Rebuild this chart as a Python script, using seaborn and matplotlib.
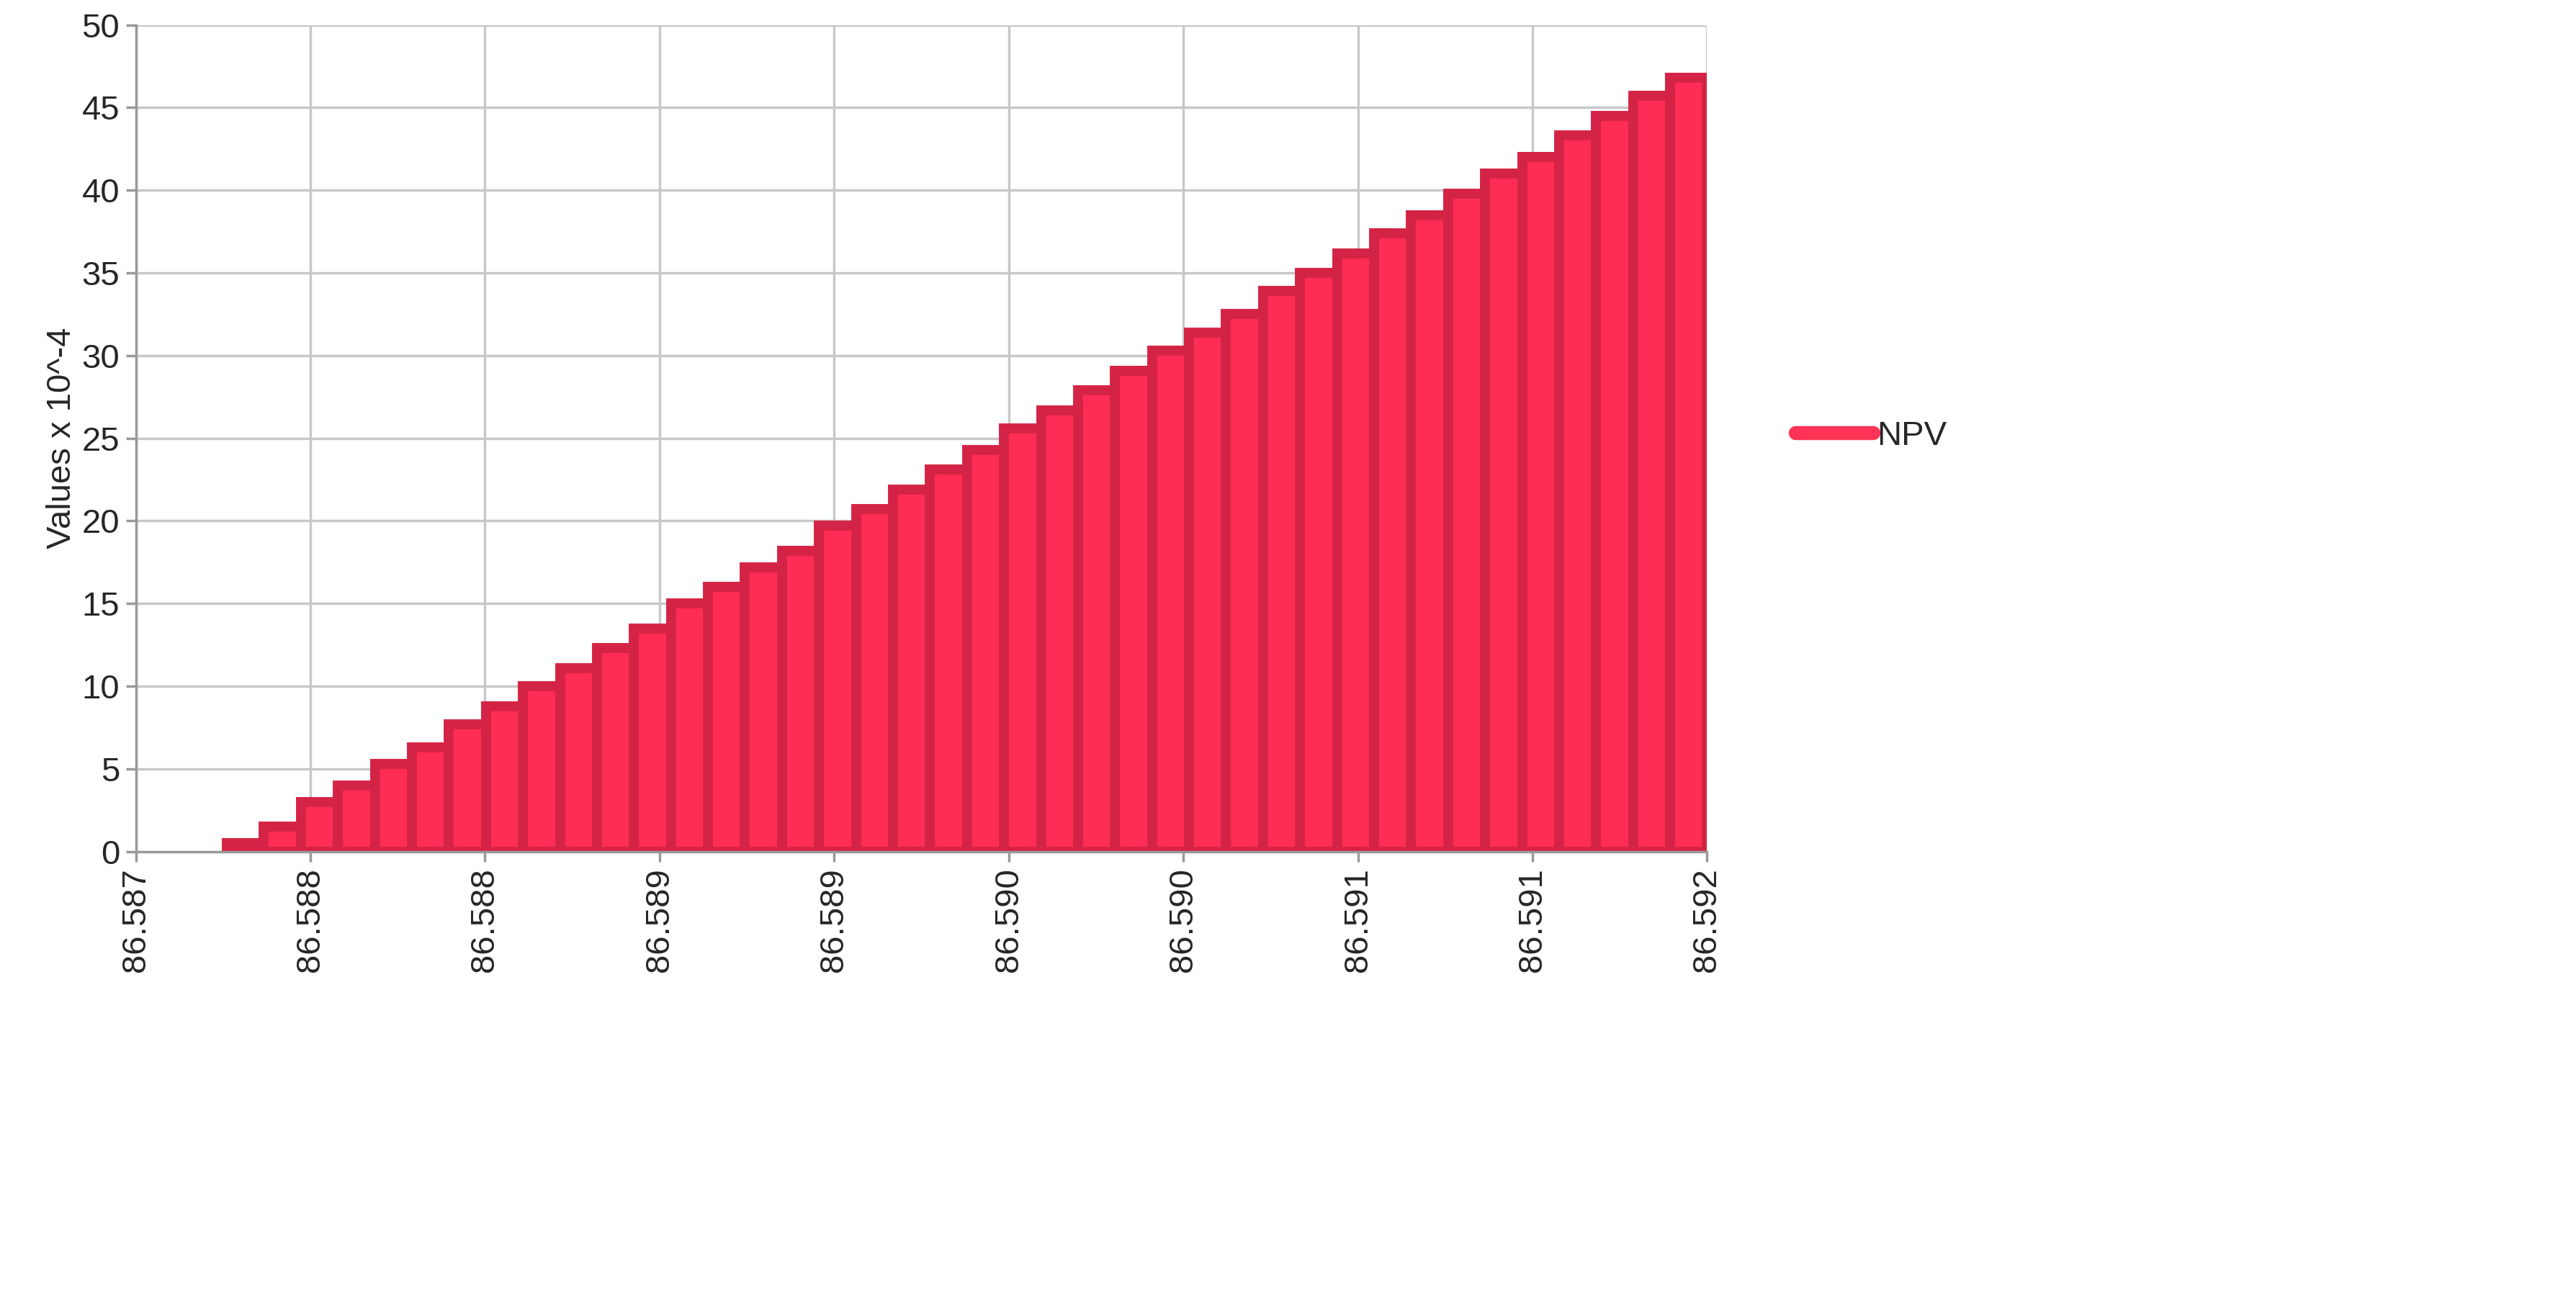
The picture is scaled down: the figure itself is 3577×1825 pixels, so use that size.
import matplotlib
matplotlib.use("Agg")
import matplotlib.pyplot as plt
import seaborn as sns
import numpy as np
import pandas as pd

x_start = 86.58729
x_end = 86.592
values = [0.5, 1.5, 3.0, 4.0, 5.3, 6.3, 7.7, 8.8, 10.0, 11.1, 12.3, 13.5, 15.0, 16.0,
          17.2, 18.2, 19.7, 20.7, 21.9, 23.1, 24.3, 25.6, 26.7, 27.9, 29.1, 30.3,
          31.4, 32.5, 33.9, 35.0, 36.2, 37.4, 38.5, 39.8, 41.0, 42.0, 43.3, 44.5,
          45.7, 46.8]
xticks = list(np.linspace(86.587, 86.592, 10))
xticklabels = ["86.587", "86.588", "86.588", "86.589", "86.589", "86.590",
               "86.590", "86.591", "86.591", "86.592"]
yticks = [0, 5, 10, 15, 20, 25, 30, 35, 40, 45, 50]

sns.set_theme(style="whitegrid")
plt.rcParams['font.family'] = ['Liberation Sans', 'DejaVu Sans']

fig = plt.figure(figsize=(35.77, 18.25), dpi=100)
ax = fig.add_axes([0.0527, 0.352, 0.61, 0.629])

n = len(values)
edges = np.linspace(x_start, x_end, n + 1)
centers = (edges[:-1] + edges[1:]) / 2
df = pd.DataFrame({"x": centers, "w": values})
sns.histplot(data=df, x="x", weights="w", bins=n, binrange=(x_start, x_end), ax=ax,
             stat="count", color="#FF2D55", alpha=1.0, edgecolor="#D42445",
             linewidth=10, element="bars", legend=False)

ax.set_xlim(86.587, 86.592)
ax.set_ylim(0, 50)
ax.set_xticks(xticks)
ax.set_xticklabels(xticklabels, rotation=90, fontsize=34)
ax.set_yticks(yticks)
ax.set_yticklabels([str(v) for v in yticks], fontsize=34)
ax.set_ylabel("Values x 10^-4", fontsize=34)
ax.set_xlabel("")
ax.grid(True, color="#C8C8C8", linewidth=2.5)
ax.set_axisbelow(True)
for s in ["top", "right"]:
    ax.spines[s].set_visible(False)
for s in ["left", "bottom"]:
    ax.spines[s].set_visible(True)
    ax.spines[s].set_color("#999999")
    ax.spines[s].set_linewidth(2.5)
ax.tick_params(axis="both", length=10, width=2.5, color="#999999", pad=6, left=True, bottom=True)

from matplotlib.lines import Line2D
h = Line2D([0], [0], color="#FF3355", linewidth=14, solid_capstyle="round")
fig.legend([h], ["NPV"], loc="center left", bbox_to_anchor=(0.685, 0.668),
           frameon=False, fontsize=34, handlelength=2.3, handletextpad=0.1)

fig.savefig("out.png", dpi=100)
